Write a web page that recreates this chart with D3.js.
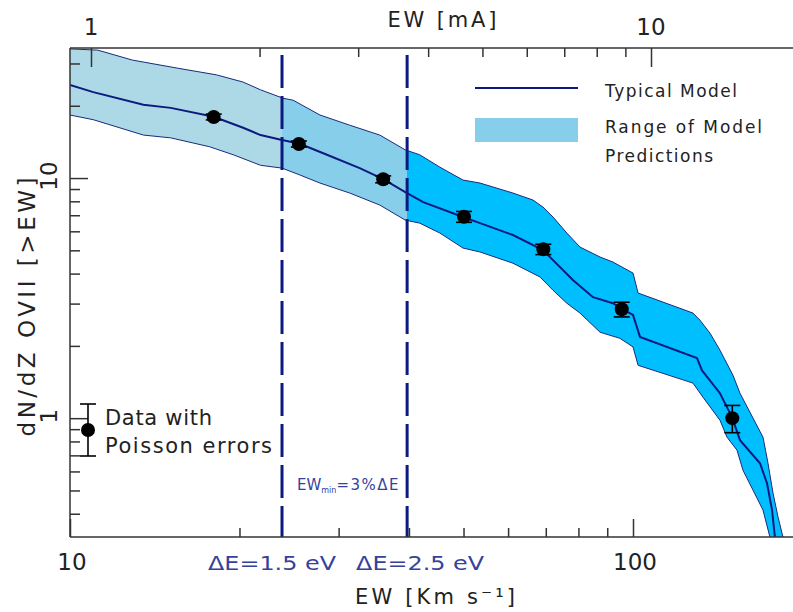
<!DOCTYPE html>
<html><head><meta charset="utf-8">
<script src="https://cdn.jsdelivr.net/npm/d3@7"></script>
<style>body{margin:0;background:#fff}svg{display:block}text{font-family:"DejaVu Sans",sans-serif}</style>
</head><body><svg id="c" width="793" height="612"></svg>
<script>
// ---- data (EW in km/s, dN/dz[>EW]) ----
const modelEW = [10.0, 11.0, 13.5, 15.1, 18.0, 20.3, 21.8, 23.8, 25.6, 28.6, 32.7, 36.0, 39.4, 42.4, 49.9, 53.5, 61.2, 69.2, 72.1, 78.2, 84.9, 92.1, 95.6, 100.0, 102.9, 129.9, 132.6, 142.7, 149.9, 154.9, 168.1, 173.0, 176.6, 178.7, 181.0];
const modelN  = [24.4, 22.8, 20.2, 19.6, 18.0, 16.2, 15.1, 14.4, 13.9, 12.5, 11.0, 9.90, 8.74, 7.94, 6.88, 6.49, 5.79, 5.01, 4.55, 3.76, 3.19, 3.01, 2.85, 2.69, 2.18, 1.78, 1.58, 1.27, 1.01, 0.810, 0.649, 0.536, 0.414, 0.319, 0.256];
const upperEW = [10.0, 11.2, 12.9, 15.5, 18.2, 20.3, 21.8, 23.9, 24.9, 27.8, 31.4, 35.5, 39.4, 41.8, 45.4, 49.9, 53.5, 61.2, 66.4, 69.2, 72.1, 76.3, 80.5, 87.4, 92.1, 100.0, 102.1, 127.8, 131.5, 137.0, 142.7, 150.5, 154.9, 170.2, 173.7, 177.3, 181.0, 184.7];
const upperN  = [34.5, 34.1, 31.0, 28.7, 26.9, 25.1, 23.3, 21.5, 21.1, 18.3, 16.6, 15.1, 13.1, 12.5, 11.1, 9.81, 9.53, 8.66, 8.10, 7.57, 6.88, 5.90, 5.16, 4.69, 4.47, 4.02, 3.32, 2.74, 2.56, 2.26, 1.92, 1.51, 1.27, 0.833, 0.649, 0.487, 0.387, 0.319];
const lowerEW = [10.0, 11.0, 13.5, 15.1, 17.7, 19.5, 21.8, 23.8, 25.6, 27.8, 31.4, 35.5, 39.4, 41.8, 45.4, 49.9, 53.5, 61.2, 68.4, 72.1, 76.3, 80.5, 87.4, 94.8, 100.0, 102.1, 127.8, 133.2, 142.7, 146.9, 153.0, 156.8, 163.4, 170.2, 175.1, 179.5];
const lowerN  = [18.3, 17.5, 15.1, 14.7, 13.5, 12.5, 11.3, 11.0, 10.3, 9.53, 8.66, 7.72, 6.68, 6.49, 5.90, 5.11, 4.92, 4.42, 3.87, 3.41, 3.01, 2.74, 2.28, 2.15, 1.98, 1.66, 1.40, 1.22, 0.981, 0.833, 0.736, 0.607, 0.501, 0.414, 0.319, 0.256];
const dataEW  = [18.0, 25.5, 36.0, 50.1, 69.3, 95.5, 150.1];
const dataN   = [17.96, 13.86, 9.88, 6.90, 5.05, 2.84, 1.00];
const dataErr = [0.5, 0.4, 0.33, 0.36, 0.25, 0.2, 0.13];
const resEW   = [23.8, 39.7];             // EW_min = 3% of dE for dE = 1.5, 2.5 eV
const resLabels = ["ΔE=1.5 eV", "ΔE=2.5 eV"];
const xMajor = [10, 100], xMajorLabels = ["10", "100"];
const xMinor = [20, 30, 40, 50, 60, 70, 80, 90];
const topMajor = [1, 10], topMajorLabels = ["1", "10"];
const topMinor = [2, 3, 4, 5, 6, 7, 8, 9];
const yMajor = [1, 10], yMajorLabels = ["1", "10"];
const yMinor = [0.4, 0.5, 0.6, 0.7, 0.8, 0.9, 2, 3, 4, 5, 6, 7, 8, 9, 20, 30];
const bandColors = ["#add8e6", "#87ceeb", "#00bfff"];

// ---- layout ----
const L = 70, T = 48, B = 537, R = 793;
const svg = d3.select("#c");
const x = d3.scaleLog().domain([10, 200]).range([L, L + 563 * Math.log10(20)]);
const xTop = d3.scaleLog().domain([1, 10]).range([91, 651]);
const y = d3.scaleLog().domain([0.32, 34.8]).range([B, T]);
const navy = "#0c1a80", blueTxt = "#34429c", ink = "#222";

const defs = svg.append("defs");
defs.append("clipPath").attr("id", "plot").append("rect").attr("x", L).attr("y", T).attr("width", R - L).attr("height", B - T);
const bounds = [L, x(resEW[0]), x(resEW[1]), R];
bandColors.forEach((c, i) => {
  defs.append("clipPath").attr("id", "reg" + i).append("rect")
    .attr("x", bounds[i]).attr("y", T).attr("width", bounds[i + 1] - bounds[i]).attr("height", B - T);
});

const line = d3.line().x(d => x(d[0])).y(d => y(d[1]));
const up = upperEW.map((e, i) => [e, upperN[i]]);
const lo = lowerEW.map((e, i) => [e, lowerN[i]]);
const mod = modelEW.map((e, i) => [e, modelN[i]]);
const poly = up.concat(lo.slice().reverse());

bandColors.forEach((c, i) => {
  svg.append("path").attr("clip-path", `url(#reg${i})`)
    .attr("d", line(poly) + "Z").attr("fill", c);
});
const gp = svg.append("g").attr("clip-path", "url(#plot)");
[up, lo].forEach(p => gp.append("path").attr("d", line(p)).attr("fill", "none")
  .attr("stroke", "#1b2a7a").attr("stroke-width", 1));
gp.append("path").attr("d", line(mod)).attr("fill", "none").attr("stroke", navy).attr("stroke-width", 2);

// dashed resolution lines
resEW.forEach(e => {
  svg.append("line").attr("x1", x(e)).attr("x2", x(e)).attr("y1", 55).attr("y2", B)
    .attr("stroke", navy).attr("stroke-width", 3).attr("stroke-dasharray", "33,8");
});

// data points with error bars
dataEW.forEach((e, i) => {
  const cx = x(e), n = dataN[i], er = dataErr[i];
  const g = svg.append("g").attr("stroke", "#000").attr("stroke-width", 1.6);
  g.append("line").attr("x1", cx).attr("x2", cx).attr("y1", y(n + er)).attr("y2", y(n - er));
  [n + er, n - er].forEach(v => g.append("line").attr("x1", cx - 8).attr("x2", cx + 8).attr("y1", y(v)).attr("y2", y(v)));
  svg.append("circle").attr("cx", cx).attr("cy", y(n)).attr("r", 7).attr("fill", "#000");
});

// axes
const axG = svg.append("g").attr("stroke", "#333").attr("stroke-width", 1.5);
function ticks(g, axis) { g.call(axis); g.select(".domain").remove(); g.selectAll("text").remove(); g.selectAll("line").attr("stroke", "#333").attr("stroke-width", 1.5); }
svg.append("g").attr("transform", `translate(0,${B})`).call(g => ticks(g, d3.axisBottom(x).tickValues(xMajor).tickSizeInner(-18).tickSizeOuter(0)));
svg.append("g").attr("transform", `translate(0,${B})`).call(g => ticks(g, d3.axisBottom(x).tickValues(xMinor).tickSizeInner(-9).tickSizeOuter(0)));
svg.append("g").attr("transform", `translate(0,${T})`).call(g => ticks(g, d3.axisTop(xTop).tickValues(topMajor).tickSizeInner(-19).tickSizeOuter(0)));
svg.append("g").attr("transform", `translate(0,${T})`).call(g => ticks(g, d3.axisTop(xTop).tickValues(topMinor).tickSizeInner(-9).tickSizeOuter(0)));
svg.append("g").attr("transform", `translate(${L},0)`).call(g => ticks(g, d3.axisLeft(y).tickValues(yMajor).tickSizeInner(-18).tickSizeOuter(0)));
svg.append("g").attr("transform", `translate(${L},0)`).call(g => ticks(g, d3.axisLeft(y).tickValues(yMinor).tickSizeInner(-10).tickSizeOuter(0)));
axG.append("line").attr("x1", L).attr("x2", R).attr("y1", T).attr("y2", T);
axG.append("line").attr("x1", L).attr("x2", R).attr("y1", B).attr("y2", B);
axG.append("line").attr("x1", L).attr("x2", L).attr("y1", T).attr("y2", B);

// tick labels
xMajor.forEach((v, i) => svg.append("text").attr("x", x(v) + 2).attr("y", 570).attr("text-anchor", "middle")
  .attr("font-size", 23).attr("fill", ink).text(xMajorLabels[i]));
topMajor.forEach((v, i) => svg.append("text").attr("x", xTop(v)).attr("y", 35).attr("text-anchor", "middle")
  .attr("font-size", 23).attr("fill", ink).text(topMajorLabels[i]));
yMajor.forEach((v, i) => svg.append("text").attr("transform", `translate(57,${y(v) - 2}) rotate(-90)`)
  .attr("text-anchor", "middle").attr("font-size", 23).attr("fill", ink).text(yMajorLabels[i]));
const resOff = [-10, 13];
resEW.forEach((e, i) => svg.append("text").attr("x", x(e) + resOff[i]).attr("y", 570).attr("text-anchor", "middle")
  .attr("font-size", 20).attr("fill", blueTxt).attr("textLength", 128).attr("lengthAdjust", "spacingAndGlyphs").text(resLabels[i]));

// axis titles
svg.append("text").attr("x", 442).attr("y", 27).attr("text-anchor", "middle").attr("font-size", 21)
  .attr("fill", ink).attr("textLength", 109).text("EW [mA]");
svg.append("text").attr("x", 435).attr("y", 604).attr("text-anchor", "middle").attr("font-size", 21)
  .attr("fill", ink).attr("textLength", 160).text("EW [Km s⁻¹]");
svg.append("text").attr("transform", "translate(35,307) rotate(-90)").attr("text-anchor", "middle")
  .attr("font-size", 23).attr("fill", ink).attr("textLength", 259).text("dN/dZ OVII [>EW]");

// annotation
const an = svg.append("text").attr("x", 297).attr("y", 490).attr("fill", blueTxt).attr("font-size", 15);
an.append("tspan").text("EW");
an.append("tspan").attr("font-size", 8).attr("dy", 3).text("min");
an.append("tspan").attr("dy", -3).attr("letter-spacing", 1.5).text("=3%ΔE");

// legend
svg.append("line").attr("x1", 475).attr("x2", 578).attr("y1", 88).attr("y2", 88).attr("stroke", navy).attr("stroke-width", 2);
svg.append("rect").attr("x", 475).attr("y", 118).attr("width", 103).attr("height", 24).attr("fill", bandColors[1]);
[["Typical Model", 97, 132], ["Range of Model", 133, 157], ["Predictions", 162, 108]].forEach(d =>
  svg.append("text").attr("x", 605).attr("y", d[1]).attr("font-size", 17).attr("fill", ink).attr("textLength", d[2]).text(d[0]));

// data legend marker
const lg = svg.append("g").attr("stroke", "#000").attr("stroke-width", 1.6);
lg.append("line").attr("x1", 88).attr("x2", 88).attr("y1", 404).attr("y2", 456);
[404, 456].forEach(v => lg.append("line").attr("x1", 80).attr("x2", 96).attr("y1", v).attr("y2", v));
svg.append("circle").attr("cx", 88).attr("cy", 430).attr("r", 7).attr("fill", "#000");
[["Data with", 425, 107], ["Poisson errors", 453, 167]].forEach(d =>
  svg.append("text").attr("x", 105).attr("y", d[1]).attr("font-size", 21).attr("fill", ink).attr("textLength", d[2]).text(d[0]));
</script></body></html>
